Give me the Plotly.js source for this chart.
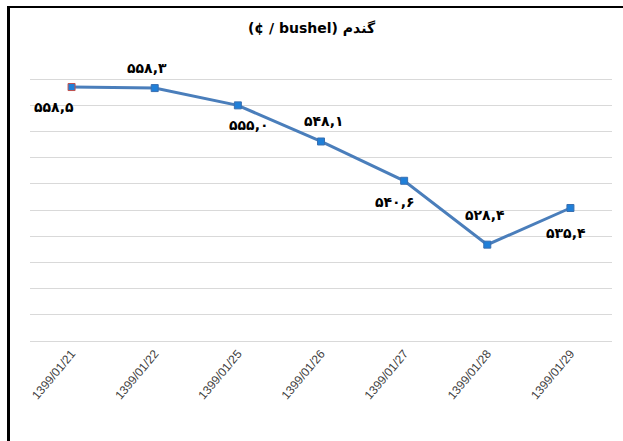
<!DOCTYPE html>
<html>
<head>
<meta charset="utf-8">
<script src="https://cdn.plot.ly/plotly-3.0.1.min.js"></script>
<style>
html,body{margin:0;padding:0;background:#fff;}
#wrap{position:relative;width:623px;height:441px;}
#chart{width:623px;height:441px;}
#frame{position:absolute;left:7px;top:6px;right:0;bottom:0;border-left:3px solid #000;border-top:2px solid #000;pointer-events:none;}
</style>
</head>
<body>
<div id="wrap"><div id="chart"></div><div id="frame"></div></div>
<script>
const categories = ["1399/01/21","1399/01/22","1399/01/25","1399/01/26","1399/01/27","1399/01/28","1399/01/29"];
const prices = [558.5, 558.3, 555.0, 548.1, 540.6, 528.4, 535.4];
const chartTitle = "(¢ / bushel) گندم";

// label offsets (pixels) relative to each point
const labelDx = [-18, -8, 11, 3, -9, -2, -4];
const labelDy = [20, -20, 20, -20, 21, -30, 25];

function toPersian(v){
  const d = "۰۱۲۳۴۵۶۷۸۹";
  return v.toFixed(1).replace(/[0-9]/g, c => d[+c]).replace(".", ",");
}

const trace = {
  x: categories,
  y: prices,
  type: "scatter",
  mode: "lines+markers",
  line: {color: "#4A7EBB", width: 3},
  marker: {symbol: "square", size: 7, color: "#1F7FD8",
    line: {color: prices.map((v,i)=> i===0 ? "#C0504D" : "#3A6FB0"), width: 1}},
  hoverinfo: "skip"
};

const annotations = prices.map((v,i)=>({
  x: categories[i], y: v, xref: "x", yref: "y",
  text: "<b>" + toPersian(v) + "</b>", showarrow: false,
  xshift: labelDx[i], yshift: -labelDy[i],
  font: {family: "DejaVu Sans", size: 14, color: "#000"}
}));

const layout = {
  width: 623, height: 441,
  margin: {l: 30, r: 11, t: 53, b: 100},
  paper_bgcolor: "#fff", plot_bgcolor: "#fff",
  title: {text: "<b>" + chartTitle + "</b>", x: 0.5, xanchor: "center", y: 1 - 28/441, yanchor: "middle",
    font: {family: "DejaVu Sans", size: 14, color: "#000"}},
  showlegend: false,
  xaxis: {type: "category", tickangle: -50, showgrid: false, zeroline: false,
    showline: true, linecolor: "#D9D9D9", linewidth: 1, ticks: "",
    tickfont: {family: "Liberation Sans Narrow, Liberation Sans", size: 12, color: "#404040"},
    range: [-0.5, 6.5]},
  yaxis: {range: [510, 565], dtick: 5, tick0: 510, showgrid: true, gridcolor: "#D9D9D9", gridwidth: 1,
    showticklabels: false, zeroline: false, showline: false, ticks: ""},
  annotations: annotations
};

Plotly.newPlot("chart", [trace], layout, {displayModeBar: false, staticPlot: true});
</script>
</body>
</html>
